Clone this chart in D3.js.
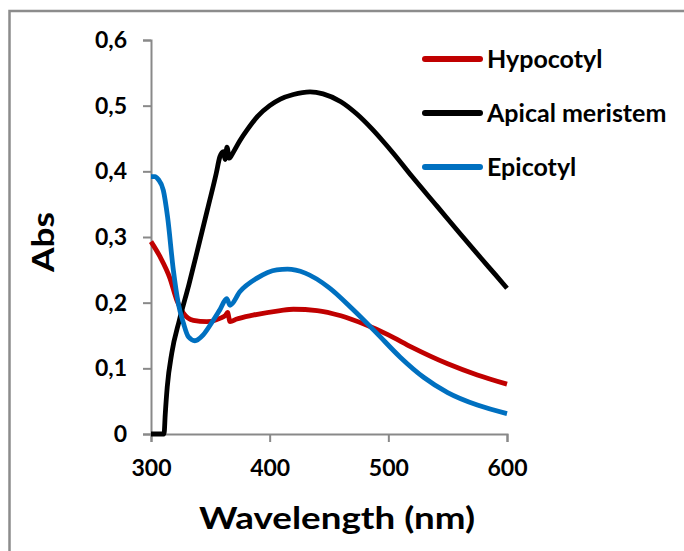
<!DOCTYPE html>
<html>
<head>
<meta charset="utf-8">
<script src="https://cdn.jsdelivr.net/npm/d3@7"></script>
<style>
  body { margin: 0; background: #fff; }
  text { font-family: Lato, "Open Sans", sans-serif; font-weight: bold; fill: #000; }
</style>
</head>
<body>
<div id="chart"></div>
<script>
// wavelength (nm) / absorbance pairs
const hypocotyl = [
  [300, 0.293], [307.6, 0.27], [316, 0.237], [321.7, 0.204], [327.3, 0.184],
  [335.7, 0.173], [347, 0.171], [358, 0.176], [363, 0.181], [364.5, 0.185],
  [366.6, 0.171], [372.3, 0.175], [386, 0.181], [409, 0.188], [420, 0.19],
  [440, 0.188], [460, 0.18], [480, 0.167], [500, 0.151], [520, 0.132],
  [550, 0.107], [575, 0.09], [600, 0.076]
];
const apical = [
  [300, 0], [311, 0], [312, 0.03], [313.7, 0.072], [317.5, 0.123], [324, 0.174],
  [332, 0.228], [340, 0.286], [348, 0.345], [355, 0.397], [358, 0.422],
  [361, 0.43], [362.5, 0.418], [364, 0.437], [366, 0.42], [369, 0.428],
  [375, 0.447], [381, 0.463], [390, 0.484], [400, 0.5], [409, 0.51],
  [420, 0.517], [434, 0.521], [445, 0.518], [460, 0.506], [473, 0.488],
  [486, 0.465], [495, 0.447], [504, 0.428], [520, 0.392], [541, 0.347],
  [560, 0.306], [578, 0.268], [590, 0.243], [600, 0.222]
];
const epicotyl = [
  [300, 0.392], [303.4, 0.392], [306, 0.388], [310.4, 0.371], [314, 0.33],
  [318.8, 0.25], [323, 0.199], [327.3, 0.169], [331.5, 0.148], [337, 0.142],
  [344, 0.151], [351, 0.169], [358, 0.189], [363.8, 0.206], [366.6, 0.196],
  [375, 0.217], [389, 0.237], [406, 0.25], [415, 0.251], [430, 0.245],
  [450, 0.223], [470, 0.19], [490, 0.154], [510, 0.117], [530, 0.086],
  [550, 0.063], [575, 0.044], [600, 0.031]
];

const seriesNames = ["Hypocotyl", "Apical meristem", "Epicotyl"];
const seriesColors = ["#c00000", "#000000", "#0070c0"];
const seriesData = [hypocotyl, apical, epicotyl];

const xTicks = [300, 400, 500, 600];
const yTicks = [0, 0.1, 0.2, 0.3, 0.4, 0.5, 0.6];

const W = 684, H = 551;
const margin = { top: 40, right: 177, bottom: 117, left: 151 };

const svg = d3.select("#chart")
  .append("svg")
  .attr("width", W)
  .attr("height", H);

// chart frame, runs off the right and bottom edges
svg.append("rect")
  .attr("x", 9.5)
  .attr("y", 11)
  .attr("width", 700)
  .attr("height", 600)
  .attr("fill", "none")
  .attr("stroke", "#8c8c8c")
  .attr("stroke-width", 2.5);

const x = d3.scaleLinear()
  .domain([300, 600])
  .range([margin.left, W - margin.right]);

const y = d3.scaleLinear()
  .domain([0, 0.6])
  .range([H - margin.bottom, margin.top]);

const fmt = d => d3.format(".1f")(d).replace(".", ",").replace(/^0,0$/, "0");

// axes
const xAxis = svg.append("g")
  .attr("transform", `translate(0,${y(0)})`)
  .call(d3.axisBottom(x).tickValues(xTicks).tickSize(8).tickPadding(18).tickFormat(d3.format("d")));

const yAxis = svg.append("g")
  .attr("transform", `translate(${x(300)},0)`)
  .call(d3.axisLeft(y).tickValues(yTicks).tickSize(8).tickPadding(16).tickFormat(fmt));

[xAxis, yAxis].forEach(g => {
  g.select(".domain").attr("stroke", "#898989").attr("stroke-width", 2);
  g.selectAll(".tick line").attr("stroke", "#898989").attr("stroke-width", 2);
  g.selectAll(".tick text")
    .style("font-family", "Lato, sans-serif")
    .style("font-weight", "bold")
    .style("font-size", "23px")
    .attr("fill", "#000");
});

// lines
const line = d3.line()
  .x(d => x(d[0]))
  .y(d => y(d[1]))
  .curve(d3.curveMonotoneX);

seriesData.forEach((s, i) => {
  svg.append("path")
    .datum(s)
    .attr("fill", "none")
    .attr("stroke", seriesColors[i])
    .attr("stroke-width", 4.8)
    .attr("stroke-linejoin", "round")
    .attr("d", line);
});

// axis titles
svg.append("text")
  .attr("x", 337)
  .attr("y", 529)
  .attr("text-anchor", "middle")
  .attr("textLength", 276)
  .attr("lengthAdjust", "spacingAndGlyphs")
  .style("font-size", "30px")
  .text("Wavelength (nm)");

svg.append("text")
  .attr("transform", "translate(54,242) rotate(-90)")
  .attr("text-anchor", "middle")
  .attr("textLength", 60)
  .attr("lengthAdjust", "spacingAndGlyphs")
  .style("font-size", "30px")
  .text("Abs");

// legend
const legend = svg.append("g");
seriesNames.forEach((name, i) => {
  const ly = 59 + i * 54;
  legend.append("line")
    .attr("x1", 425).attr("x2", 480)
    .attr("y1", ly).attr("y2", ly)
    .attr("stroke", seriesColors[i])
    .attr("stroke-width", 6)
    .attr("stroke-linecap", "round");
  legend.append("text")
    .attr("x", 487)
    .attr("y", ly + 8.5)
    .style("font-size", "25px")
    .text(name);
});
</script>
</body>
</html>
